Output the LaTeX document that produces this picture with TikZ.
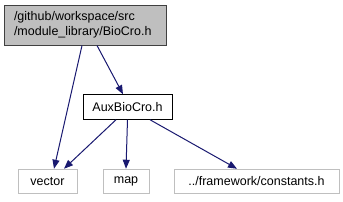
\documentclass[tikz,border=0pt]{standalone}
\usepackage{fontspec}
\setmainfont{Liberation Sans}
\usetikzlibrary{arrows.meta, positioning, calc}
\definecolor{edgeblue}{RGB}{25,25,112}
\definecolor{boxgray}{RGB}{191,191,191}
\definecolor{rootline}{RGB}{64,64,64}

\begin{document}
\begin{tikzpicture}[
    x=1pt, y=-1pt,
    filebox/.style={
      rectangle, draw=#1, line width=1pt,
      inner sep=0pt, minimum height=24.5pt,
      font=\fontsize{12.5}{15}\selectfont, text=black
    },
    rootbox/.style={
      rectangle, draw=rootline, fill=boxgray, line width=1pt,
      inner xsep=10pt, inner ysep=0pt,
      text width=142pt, minimum height=40pt, align=left,
      font=\fontsize{12.5}{15}\selectfont
    },
    dep/.style={
      -{Triangle[length=9pt, width=7pt]}, line width=1pt, draw=edgeblue
    }
  ]

  \useasboundingbox (0,0) rectangle (343,201);

  % ---- Header node ----
  \node[rootbox] (BIOCRO) at (85,25)
    {/github/workspace/src\\/module\_library/BioCro.h};

  % ---- Included header ----
  \node[filebox=black, fill=white, minimum width=89pt] (AUX) at (127.5,107) {AuxBioCro.h};

  % ---- System / external headers ----
  \node[filebox=boxgray, minimum width=59pt]  (VECTOR)    at (47.5,181.5) {vector};
  \node[filebox=boxgray, minimum width=46pt]  (MAP)       at (126,181.5)  {map};
  \node[filebox=boxgray, minimum width=165pt] (CONSTANTS) at (256.5,181.5) {../framework/constants.h};

  % ---- Include arrows ----
  \draw[dep] ([xshift=-3pt]BIOCRO.south) -- ([xshift=6.5pt]VECTOR.north);
  \draw[dep] ([xshift=12pt]BIOCRO.south) -- ([xshift=-4.5pt]AUX.north);
  \draw[dep] ([xshift=-11.5pt]AUX.south) -- ([xshift=16.5pt]VECTOR.north);
  \draw[dep] (AUX.south) -- (MAP.north);
  \draw[dep] ([xshift=22.5pt]AUX.south) -- ([xshift=-19.5pt]CONSTANTS.north);

\end{tikzpicture}
\end{document}
